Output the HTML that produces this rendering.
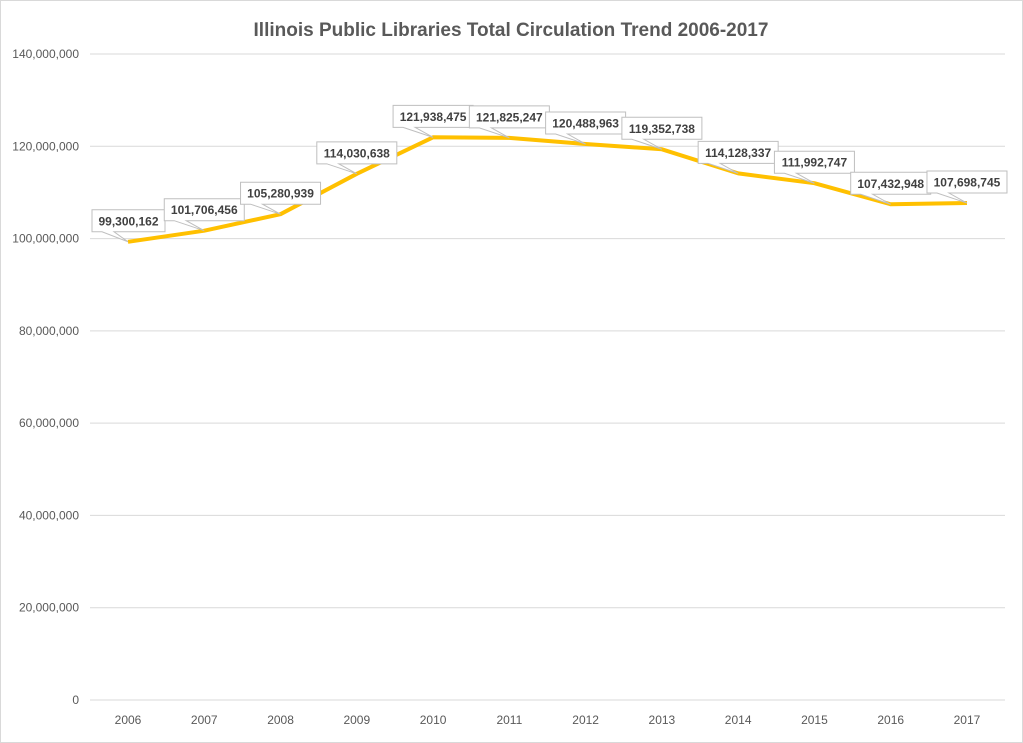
<!DOCTYPE html>
<html><head><meta charset="utf-8"><style>
html,body{margin:0;padding:0;background:#fff}
svg{display:block;font-family:"Liberation Sans",sans-serif}
</style></head><body>
<svg id="c" width="1023" height="743" viewBox="0 0 1023 743" xmlns="http://www.w3.org/2000/svg">
<rect x="0.5" y="0.5" width="1022" height="742" fill="#fff" stroke="#d9d9d9"/>
<text x="511" y="36" text-anchor="middle" font-size="19" font-weight="bold" fill="#595959">Illinois Public Libraries Total Circulation Trend 2006-2017</text>
<g id="g"></g>
</svg>
<script>
(function(){
var g=document.getElementById('g'),s='';
var T=54,B=700,x0=90,x1=1005;
function fmt(n){return String(n).replace(/\B(?=(\d{3})+(?!\d))/g,',');}
for(var i=0;i<=7;i++){var y=B-(B-T)*i/7;
s+='<line x1="'+x0+'" x2="'+x1+'" y1="'+y+'" y2="'+y+'" stroke="#d9d9d9" stroke-width="1"/>';
s+='<text x="79" y="'+(y+4)+'" text-anchor="end" font-size="12" fill="#595959">'+fmt(i*20000000)+'</text>';}
var vals=[99300162,101706456,105280939,114030638,121938475,121825247,120488963,119352738,114128337,111992747,107432948,107698745];
var pts=[];
for(var i=0;i<12;i++){var x=128+i*76.27,y=B-vals[i]/140e6*(B-T);pts.push([x,y]);
s+='<text x="'+x+'" y="724" text-anchor="middle" font-size="12" fill="#595959">'+(2006+i)+'</text>';}
s+='<polyline fill="none" stroke="#ffc000" stroke-width="4" stroke-linejoin="round" points="'+pts.map(function(p){return p[0].toFixed(1)+','+p[1].toFixed(1)}).join(' ')+'"/>';
for(var i=0;i<12;i++){var x=pts[i][0],y=pts[i][1],w=i==0?73:80,bx=x-(i==0?36:40),by=y-32,bb=by+22;
s+='<path d="M'+bx+','+by+' H'+(bx+w)+' V'+bb+' H'+(bx+22)+' L'+x+','+y+' L'+(bx+10)+','+bb+' H'+bx+' Z" fill="#fff" stroke="#bfbfbf" stroke-width="1"/>';
s+='<text x="'+(bx+w/2)+'" y="'+(by+15.5)+'" text-anchor="middle" font-size="12" font-weight="bold" fill="#404040">'+fmt(vals[i])+'</text>';}
g.innerHTML=s;
})();
</script>
</body></html>
